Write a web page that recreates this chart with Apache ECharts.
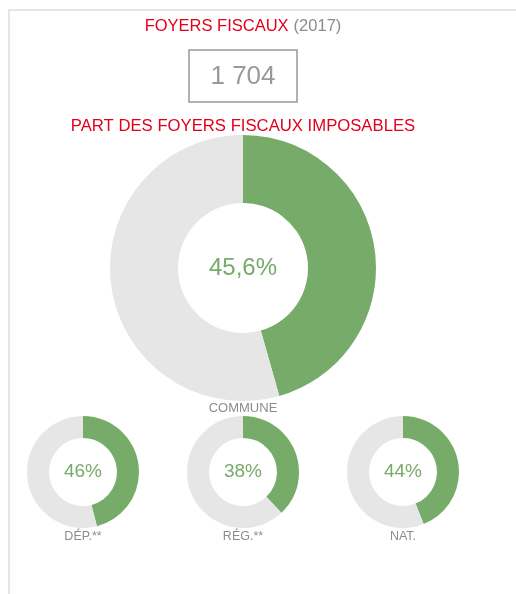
<!DOCTYPE html>
<html>
<head>
<meta charset="utf-8">
<script src="https://cdn.jsdelivr.net/npm/echarts@6/dist/echarts.min.js"></script>
<style>
  html, body { margin: 0; padding: 0; background: #fff; }
  #main { width: 516px; height: 594px; }
</style>
</head>
<body>
<div id="main"></div>
<script>
// donnees
var annee = '2017';
var nbFoyers = '1 704';
var zones = ['COMMUNE', 'DÉP.**', 'RÉG.**', 'NAT.'];
var partImposables = [45.6, 46, 38, 44];
var etiquettes = ['45,6%', '46%', '38%', '44%'];

var vert = '#76ab6a';
var gris = '#e6e6e6';
var rouge = '#e2001a';
var police = 'Liberation Sans, Arial, sans-serif';

// position des anneaux (commune en grand, puis les 3 petits)
var centres = [[243, 268], [83, 472], [243, 472], [403, 472]];
var rayons = [[65, 133], [34, 56], [34, 56], [34, 56]];
var tailles = [24, 19, 19, 19];
var basLabel = [407, 535, 535, 535];

var chart = echarts.init(document.getElementById('main'), null, { renderer: 'canvas' });

var series = [];
var titres = [
  {
    text: '{r|FOYERS FISCAUX} {g|(' + annee + ')}',
    left: 243, top: 17, textAlign: 'center', padding: 0,
    textStyle: {
      fontWeight: 'normal',
      rich: {
        r: { color: rouge, fontSize: 16.5, fontWeight: 'normal', fontFamily: police },
        g: { color: '#8c8c8c', fontSize: 16.5, fontWeight: 'normal', fontFamily: police }
      }
    }
  },
  {
    text: nbFoyers,
    left: 243, top: 64, textAlign: 'center', padding: 0,
    textStyle: { color: '#999', fontSize: 26, fontWeight: 'normal', fontFamily: police }
  },
  {
    text: 'PART DES FOYERS FISCAUX IMPOSABLES',
    left: 243, top: 118, textAlign: 'center', padding: 0,
    textStyle: { color: rouge, fontSize: 16.7, fontWeight: 'normal', fontFamily: police }
  }
];

for (var i = 0; i < zones.length; i++) {
  series.push({
    name: zones[i],
    type: 'pie',
    center: centres[i],
    radius: rayons[i],
    startAngle: 90,
    clockwise: true,
    silent: true,
    animation: false,
    labelLine: { show: false },
    data: [
      {
        value: partImposables[i], name: zones[i],
        itemStyle: { color: vert },
        label: {
          show: true, position: 'center', formatter: etiquettes[i],
          color: vert, fontSize: tailles[i], fontFamily: police
        }
      },
      {
        value: 100 - partImposables[i], name: 'non',
        itemStyle: { color: gris },
        label: { show: false }
      }
    ]
  });
  titres.push({
    text: zones[i],
    left: centres[i][0], top: basLabel[i] - 5, textAlign: 'center', padding: 0,
    textStyle: { color: '#8c8c8c', fontSize: i === 0 ? 13 : 12.5, fontWeight: 'normal', fontFamily: police }
  });
}

var option = {
  backgroundColor: '#fff',
  title: titres,
  graphic: [
    // cadre du bloc
    { type: 'line', shape: { x1: 9, y1: 10, x2: 516, y2: 10 }, style: { stroke: '#e6e6e6', lineWidth: 2 } },
    { type: 'line', shape: { x1: 9, y1: 9, x2: 9, y2: 594 }, style: { stroke: '#e6e6e6', lineWidth: 2 } },
    // encadre du nombre de foyers
    { type: 'rect', shape: { x: 189, y: 50, width: 108, height: 52 }, style: { fill: 'none', stroke: '#999', lineWidth: 1.5 } }
  ],
  series: series
};

chart.setOption(option);
</script>
</body>
</html>
